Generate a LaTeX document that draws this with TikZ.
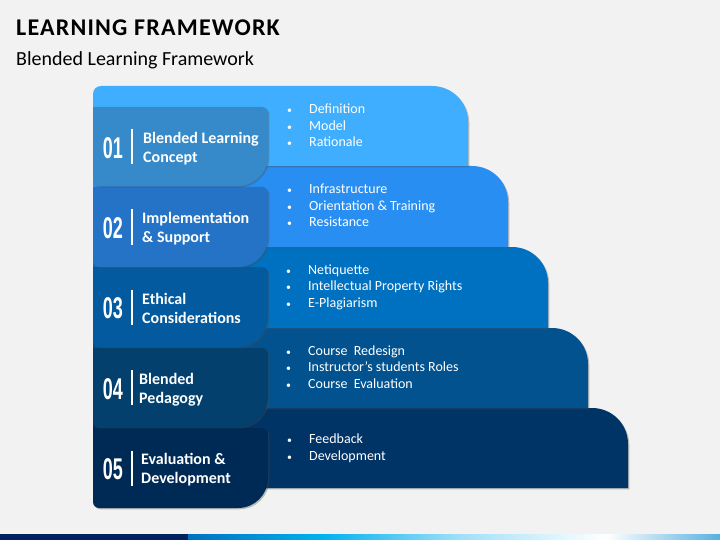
\documentclass[tikz,border=0pt]{standalone}
\usepackage{fontspec}
\setmainfont{Carlito}
\newfontfamily\numfont{Liberation Sans}
\newfontfamily\titlefont[LetterSpace=5]{Carlito}
\usetikzlibrary{shadows}
\definecolor{bgc}{HTML}{F2F2F2}
\definecolor{barA}{HTML}{40AEFE}
\definecolor{tabA}{HTML}{368AC9}
\definecolor{barB}{HTML}{298EF2}
\definecolor{tabB}{HTML}{2473C6}
\definecolor{barC}{HTML}{0070C0}
\definecolor{tabC}{HTML}{045A9E}
\definecolor{barD}{HTML}{01528F}
\definecolor{tabD}{HTML}{03406E}
\definecolor{barE}{HTML}{003366}
\definecolor{tabE}{HTML}{002A56}
\definecolor{navy}{HTML}{002060}
\definecolor{stripB}{HTML}{0070C0}
\definecolor{stripC}{HTML}{00B0F0}
\definecolor{stripD}{HTML}{A0E0F8}
\definecolor{stripE}{HTML}{58B0E0}
\newcommand\blt{\makebox[23pt][l]{\hspace{1pt}\scalebox{0.7}{•}}}
\newcommand\stepbar[4]{%
  \fill[#4, barshadow] (93,#2) -- (93,{#1+8}) .. controls (93,{#1+3.6}) and (96.6,#1) .. (101,#1)
    -- ({#3-36},#1) .. controls ({#3-16},#1) and (#3,{#1+16}) .. (#3,{#1+36}) -- (#3,#2) -- cycle;}
\newcommand\steptab[3]{%
  \fill[#3, barshadow] (93,#1) -- (262,#1) .. controls (265.3,#1) and (268,{#1+2.7}) .. (268,{#1+6})
    -- (268,{#2-30}) .. controls (268,{#2-13.4}) and (254.6,#2) .. (238,#2)
    -- (99,#2) .. controls (95.7,#2) and (93,{#2-2.7}) .. (93,{#2-6}) -- cycle;}
\begin{document}
\begin{tikzpicture}[x=1pt,y=-1pt,
  barshadow/.style={drop shadow={shadow xshift=1.3pt, shadow yshift=-1.3pt, opacity=0.35, fill=black!70}},
  bultext/.style={inner sep=0pt, anchor=base west, text=white, font=\fontsize{14}{16.7}\selectfont},
  tabtext/.style={inner sep=0pt, anchor=base west, text=white, font=\fontsize{16}{19}\selectfont\bfseries},
  numtext/.style={inner sep=0pt, text=white, font=\numfont\fontsize{30}{30}\selectfont\bfseries},
  sepline/.style={white, line width=1.8pt}]
\useasboundingbox (0,0) rectangle (720,540);
\fill[bgc] (0,0) rectangle (720,540);
% title
\node[inner sep=0pt, anchor=base west, font=\titlefont\fontsize{24}{28}\selectfont\bfseries] (title) at (16,36) {LEARNING FRAMEWORK};
\node[inner sep=0pt, anchor=base west, font=\fontsize{20}{24}\selectfont] (subtitle) at (16,66) {Blended Learning Framework};
% bars, bottom to top
\stepbar{408}{488}{628}{barE}
\stepbar{328}{408}{588}{barD}
\stepbar{247}{328}{548}{barC}
\stepbar{166}{247}{508}{barB}
\stepbar{86}{166}{468}{barA}
% tabs
\steptab{428}{508}{tabE}
\steptab{348}{427}{tabD}
\steptab{267}{347}{tabC}
\steptab{187}{267}{tabB}
\steptab{107}{186}{tabA}
% numbers and separators
\foreach \m/\n [count=\i] in {146.5/01, 227/02, 307/03, 387.5/04, 468/05} {
  \node[numtext] (num\i) at (113,{\m+1.2}) {\scalebox{0.6}[1]{\n}};
  \coordinate (sa\i) at (132,{\m-17.5});
  \coordinate (sb\i) at (132,{\m+17.5});
  \draw[sepline] (sa\i) -- (sb\i);
}
% tab labels
\node[tabtext] (t1) at (143,143.3) {\begin{tabular}[t]{@{}l@{}}Blended Learning\\Concept\end{tabular}};
\node[tabtext] (t2) at (142,223.5) {\begin{tabular}[t]{@{}l@{}}Implementation\\\& Support\end{tabular}};
\node[tabtext] (t3) at (142,304) {\begin{tabular}[t]{@{}l@{}}Ethical\\Considerations\end{tabular}};
\node[tabtext] (t4) at (139,384) {\begin{tabular}[t]{@{}l@{}}Blended\\Pedagogy\end{tabular}};
\node[tabtext] (t5) at (141,464.5) {\begin{tabular}[t]{@{}l@{}}Evaluation \&\\Development\end{tabular}};
% bullet lists
\node[bultext] (l1) at (286,113.5) {\begin{tabular}[t]{@{}l@{}}\blt Definition\\\blt Model\\\blt Rationale\end{tabular}};
\node[bultext] (l2) at (286,193.5) {\begin{tabular}[t]{@{}l@{}}\blt Infrastructure\\\blt Orientation \& Training\\\blt Resistance\end{tabular}};
\node[bultext] (l3) at (285,274) {\begin{tabular}[t]{@{}l@{}}\blt Netiquette\\\blt Intellectual Property Rights\\\blt E-Plagiarism\end{tabular}};
\node[bultext] (l4) at (285,355) {\begin{tabular}[t]{@{}l@{}}\blt Course\ \ Redesign\\\blt Instructor’s students Roles\\\blt Course\ \ Evaluation\end{tabular}};
\node[bultext] (l5) at (286,443.5) {\begin{tabular}[t]{@{}l@{}}\blt Feedback\\\blt Development\end{tabular}};
% bottom strip
\fill[navy] (0,534) rectangle (188,540);
\shade[left color=stripB, right color=stripC] (188,534) rectangle (321,540);
\shade[left color=stripC, right color=stripD] (321,534) rectangle (460,540);
\shade[left color=stripD, right color=white] (460,534) rectangle (606,540);
\shade[left color=white, right color=stripE] (606,534) rectangle (720,540);
\end{tikzpicture}
\end{document}
